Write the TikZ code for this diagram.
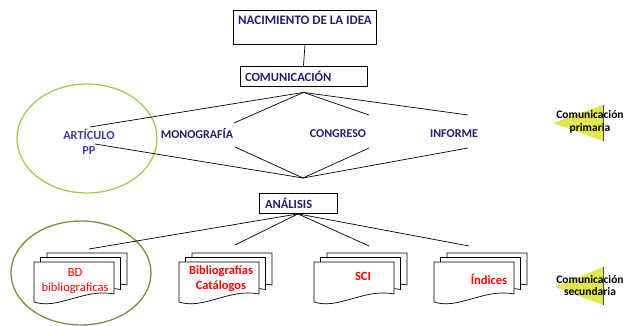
\documentclass[tikz,border=0pt]{standalone}
\usepackage{fontspec}
\setmainfont{Carlito}
\usetikzlibrary{positioning}
\definecolor{navy}{RGB}{31,31,110}
\definecolor{artblue}{RGB}{62,62,158}
\definecolor{lightgreen}{RGB}{155,207,83}
\definecolor{darkgreen}{RGB}{119,147,60}
\definecolor{triyellow}{RGB}{228,230,78}
\definecolor{docred}{RGB}{255,0,0}
\tikzset{
	stepbox/.style={draw, line width=0.8pt, inner xsep=5pt, align=left, font=\bfseries\fontsize{12.5}{14}\selectfont, text=navy},
	label/.style={inner sep=0pt, align=center, font=\bfseries\fontsize{12}{14}\selectfont, text=navy},
	doctext/.style={inner sep=0pt, align=center, font=\bfseries\fontsize{12.5}{15}\selectfont, text=docred},
	tritext/.style={inner sep=0pt, align=center, font=\bfseries\fontsize{11.5}{12.5}\selectfont},
	fan/.style={line width=0.7pt},
	docline/.style={draw, fill=white, line width=0.7pt},
}
\newcommand{\docsheet}[1]{\draw[docline, shift={#1}] (0,0) -- (80,0) -- (80,32) .. controls (50,26) and (25,48) .. (0,40) -- cycle;}
\begin{document}
\begin{tikzpicture}[x=1pt, y=-1pt]
	\useasboundingbox (0,0) rectangle (630,326);
	\draw[lightgreen, line width=1.3pt] (87,138.5) ellipse (70 and 54.5);
	\draw[darkgreen, line width=1.3pt] (81,273) ellipse (70 and 52);
	\node[stepbox, font=\bfseries\fontsize{13}{15}\selectfont, minimum width=140pt, inner ysep=5.5pt, text height=9pt, text depth=14pt] (idea) at (305,27) {NACIMIENTO DE LA IDEA};
	\node[stepbox, text width=117pt, minimum height=20pt] (comm) at (303.5,76) {COMUNICACIÓN};
	\node[stepbox, text width=66pt, inner xsep=6pt, minimum height=20pt] (ana) at (298,203.5) {ANÁLISIS};
	\draw[fan] (idea.south) -- (comm.north);
	\node[label, font=\bfseries\fontsize{12.3}{15}\selectfont, text=artblue] (art) at (89,142) {ARTÍCULO\\PP};
	\node[label] (mono) at (197,134) {MONOGRAFÍA};
	\node[label] (cong) at (338,134) {CONGRESO};
	\node[label] (inf) at (454,134) {INFORME};
	\coordinate[below=6pt of comm.south] (top);
	\coordinate (mid) at (303,178);
	\coordinate (art-t) at (90,127);
	\coordinate (art-b) at (95,144);
	\coordinate (mono-t) at (234,123);
	\coordinate (mono-b) at (235,147);
	\coordinate (cong-t) at (369,115);
	\coordinate (cong-b) at (369,148);
	\coordinate (inf-t) at (468,115);
	\coordinate (inf-b) at (468,148);
	\draw[fan] (top) -- (art-t);
	\draw[fan] (top) -- (mono-t);
	\draw[fan] (top) -- (cong-t);
	\draw[fan] (top) -- (inf-t);
	\draw[fan] (art-b) -- (mid);
	\draw[fan] (mono-b) -- (mid);
	\draw[fan] (cong-b) -- (mid);
	\draw[fan] (inf-b) -- (mid);
	\begin{scope}[shift={(34,262)}]
	\docsheet{(13,-9)}
	\docsheet{(6.5,-4.5)}
	\docsheet{(0,0)}
	\end{scope}
	\begin{scope}[shift={(179,262)}]
	\docsheet{(13,-9)}
	\docsheet{(6.5,-4.5)}
	\docsheet{(0,0)}
	\end{scope}
	\begin{scope}[shift={(314,262)}]
	\docsheet{(13,-9)}
	\docsheet{(6.5,-4.5)}
	\docsheet{(0,0)}
	\end{scope}
	\begin{scope}[shift={(434,262)}]
	\docsheet{(13,-9)}
	\docsheet{(6.5,-4.5)}
	\docsheet{(0,0)}
	\end{scope}
	\node[doctext, font=\fontsize{12.5}{15}\selectfont] (bd) at (75,281) {BD\\bibliograficas};
	\node[doctext] (bib) at (221,278.5) {Bibliografías\\Catálogos};
	\node[doctext] (sci) at (363,276) {SCI};
	\node[doctext] (ind) at (489,279) {Índices};
	\coordinate (bd-t) at (89,249);
	\coordinate (bib-t) at (235,245);
	\coordinate (sci-t) at (369,246);
	\coordinate (ind-t) at (469,246);
	\draw[fan] (ana.south) -- (bd-t);
	\draw[fan] (ana.south) -- (bib-t);
	\draw[fan] (ana.south) -- (sci-t);
	\draw[fan] (ana.south) -- (ind-t);
	\fill[triyellow] (553,123) -- (603,105) -- (603,141) -- cycle;
	\draw[line width=0.6pt, black!70] (603,105) -- (603,141);
	\node[tritext] (prim) at (590,122) {Comunicación\\primaria};
	\fill[triyellow] (555,287) -- (603,267) -- (603,305) -- cycle;
	\draw[line width=0.6pt, black!70] (603,267) -- (603,305);
	\node[tritext] (sec) at (590,285.5) {Comunicación\\secundaria};
\end{tikzpicture}
\end{document}
